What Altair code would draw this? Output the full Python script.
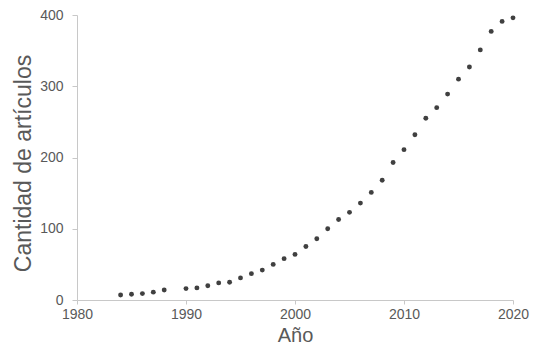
import altair as alt
import pandas as pd

years = [1984, 1985, 1986, 1987, 1988,
         1990, 1991, 1992, 1993, 1994, 1995, 1996, 1997, 1998, 1999,
         2000, 2001, 2002, 2003, 2004, 2005, 2006, 2007, 2008, 2009,
         2010, 2011, 2012, 2013, 2014, 2015, 2016, 2017, 2018, 2019, 2020]
articles = [7, 8, 9, 11, 14,
            16, 17, 20, 24, 25, 31, 37, 42, 50, 58,
            64, 75, 86, 100, 113, 123, 136, 151, 168, 193,
            211, 232, 255, 270, 289, 310, 327, 351, 377, 391, 396]

x_ticks = [1980, 1990, 2000, 2010, 2020]
y_ticks = [0, 100, 200, 300, 400]

df = pd.DataFrame({"Año": years, "Cantidad": articles})

font = "Liberation Sans"
axis_color = "#c8c8c8"
text_color = "#595959"

chart = alt.Chart(df).mark_circle(size=24, color="#404040", opacity=1).encode(
    x=alt.X("Año:Q",
            scale=alt.Scale(domain=[1980, 2020], nice=False, zero=False),
            axis=alt.Axis(values=x_ticks, format="d", title="Año", grid=False,
                          domainColor=axis_color, tickColor=axis_color, tickSize=4,
                          labelColor=text_color, labelFontSize=14, labelFont=font,
                          labelFlush=False, labelPadding=3,
                          titleColor=text_color, titleFontSize=20, titleFont=font,
                          titleFontWeight="normal", titleBaseline="alphabetic",
                          titleY=41)),
    y=alt.Y("Cantidad:Q",
            scale=alt.Scale(domain=[0, 400], nice=False),
            axis=alt.Axis(values=y_ticks, title="Cantidad de artículos", grid=False,
                          domainColor=axis_color, tickColor=axis_color, tickSize=5,
                          labelColor=text_color, labelFontSize=14, labelFont=font,
                          labelFlush=False, labelPadding=9,
                          titleColor=text_color, titleFontSize=23, titleFont=font,
                          titleFontWeight="normal", titleBaseline="alphabetic",
                          titleX=-47, titleY=148)),
).properties(
    width=436, height=285,
    autosize=alt.AutoSizeParams(type="none"),
    padding={"left": 69, "top": 7, "right": 17, "bottom": 46},
).configure_view(stroke=None)

chart.save("out.html", embed_options={"renderer": "svg", "actions": False})
